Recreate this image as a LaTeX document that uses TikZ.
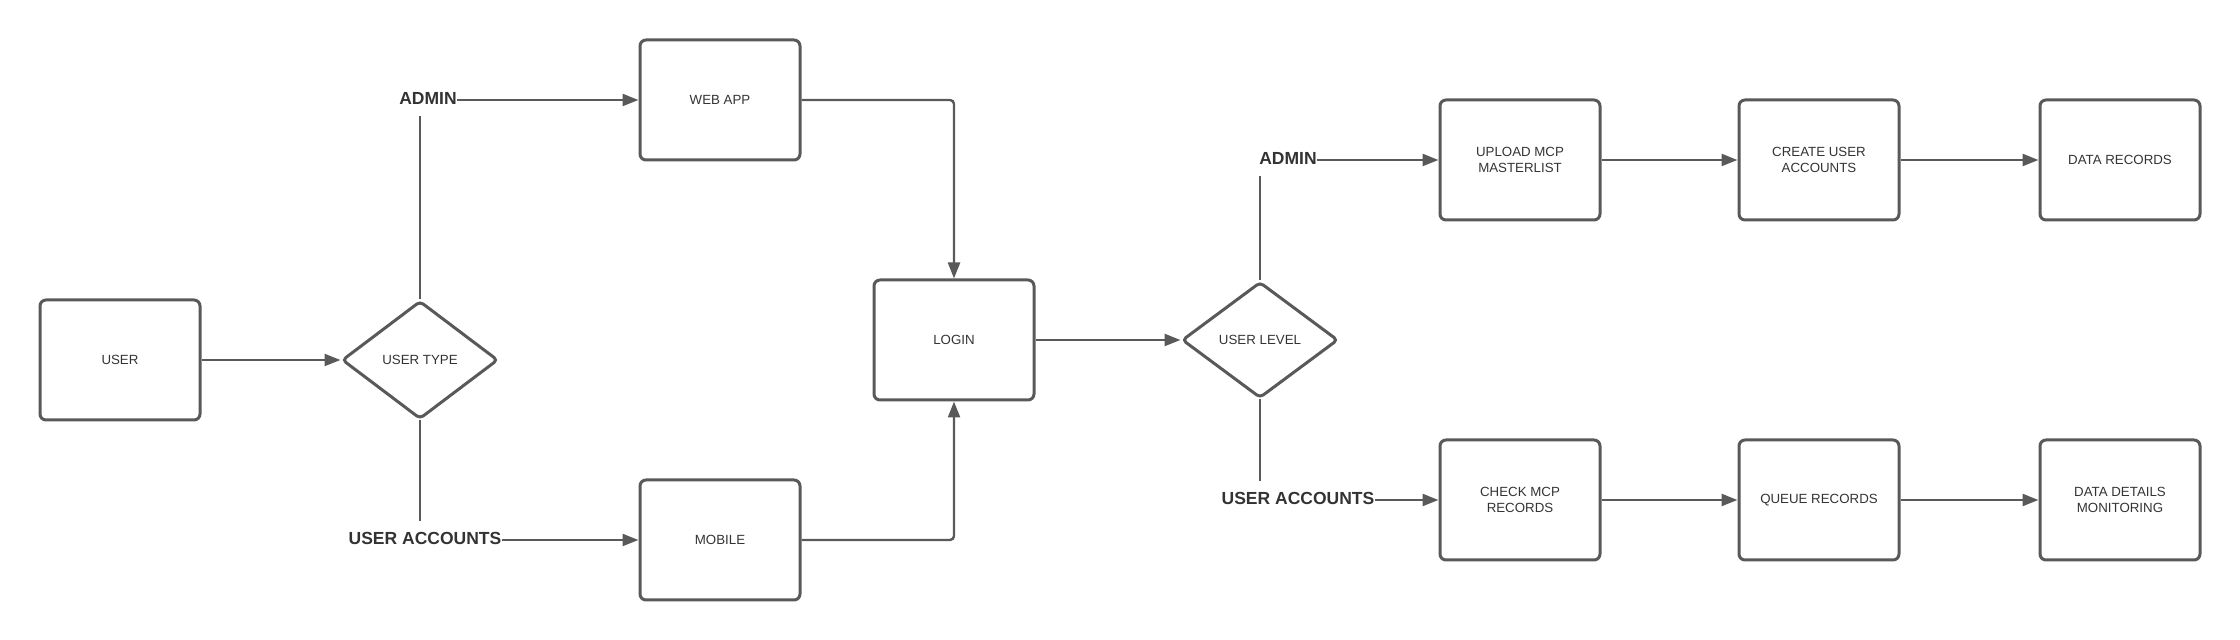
\documentclass[tikz,border=0pt]{standalone}
\usepackage{fontspec}
\setmainfont{Liberation Sans}
\usetikzlibrary{shapes.geometric,arrows.meta}

\definecolor{LineGray}{HTML}{595959}
\definecolor{TextGray}{HTML}{333333}

\tikzset{
Box/.style={draw=LineGray, rectangle, rounded corners=3pt, minimum width=80pt,
        minimum height=60pt, inner sep=2pt, align=center, line width=1.5pt,
        text=TextGray, font=\fontsize{6.65}{8}\selectfont},
Decision/.style={draw=LineGray, diamond, rounded corners=2pt, minimum width=78pt,
        minimum height=59pt, inner sep=0pt, align=center, line width=1.5pt,
        text=TextGray, font=\fontsize{6.65}{8}\selectfont},
BranchLabel/.style={inner sep=0pt, text=TextGray, font=\fontsize{8.75}{10}\selectfont\bfseries},
FlowArrow/.style={arrows={-Triangle[length=8pt,width=6pt]},draw=LineGray,line width=1.2pt,rounded corners=2pt},
FlowLine/.style={draw=LineGray,line width=1.1pt},
}

\begin{document}
\begin{tikzpicture}[]
	\useasboundingbox (0,0) rectangle (1120pt,-320pt);

	% left part
	\node[Box] (U) at (60pt,-180pt) {USER};
	\node[Decision] (UT) at (210pt,-180pt) {USER TYPE};
	\node[Box] (W) at (360pt,-50pt) {WEB APP};
	\node[Box] (M) at (360pt,-270pt) {MOBILE};
	\node[Box] (L) at (477pt,-170pt) {LOGIN};
	\node[BranchLabel] (A1) at (214pt,-49pt) {ADMIN};
	\node[BranchLabel] (C1) at (212.5pt,-269pt) {USER ACCOUNTS};

	\draw[FlowArrow] (U) -- (UT);
	\draw[FlowLine] (UT.north) -- ([yshift=-6pt]UT.north |- A1.south);
	\draw[FlowLine] (UT.south) -- ([yshift=5pt]UT.south |- C1.north);
	\draw[FlowArrow] (A1.east |- W.west) -- (W.west);
	\draw[FlowArrow] (C1.east |- M.west) -- (M.west);
	\draw[FlowArrow] (W.east) -| (L.north);
	\draw[FlowArrow] (M.east) -| (L.south);

	% right part
	\node[Decision, minimum height=58pt] (UL) at (630pt,-170pt) {USER LEVEL};
	\draw[FlowArrow] (L) -- (UL);
	\foreach \x/\t [count=\i] in {760/{UPLOAD MCP\\MASTERLIST},909.5/{CREATE USER\\ACCOUNTS},1060/{DATA RECORDS}}
		\node[Box] (T\i) at (\x pt,-80pt) {\t};
	\foreach \x/\t [count=\i] in {760/{CHECK MCP\\RECORDS},909.5/{QUEUE RECORDS},1060/{DATA DETAILS\\MONITORING}}
		\node[Box] (B\i) at (\x pt,-250pt) {\t};
	\foreach \i [evaluate=\i as \j using int(\i+1)] in {1,2}{
		\draw[FlowArrow] (T\i) -- (T\j);
		\draw[FlowArrow] (B\i) -- (B\j);
	}

	\node[BranchLabel] (A2) at (644pt,-79pt) {ADMIN};
	\node[BranchLabel] (C2) at (649pt,-249pt) {USER ACCOUNTS};
	\draw[FlowLine] (UL.north) -- ([yshift=-6pt]UL.north |- A2.south);
	\draw[FlowLine] (UL.south) -- ([yshift=5pt]UL.south |- C2.north);
	\draw[FlowArrow] (A2.east |- T1.west) -- (T1.west);
	\draw[FlowArrow] (C2.east |- B1.west) -- (B1.west);
\end{tikzpicture}
\end{document}
